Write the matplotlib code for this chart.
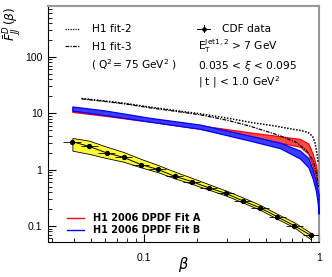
import matplotlib
matplotlib.use("Agg")
import matplotlib.pyplot as plt
from matplotlib.lines import Line2D
from matplotlib.ticker import LogLocator, NullFormatter, FixedLocator, FixedFormatter
import numpy as np

plt.rcParams['font.family'] = ['Liberation Sans', 'DejaVu Sans']
plt.rcParams['mathtext.fontset'] = 'dejavusans'

# CDF data
cdf_beta = [0.039, 0.0487, 0.0612, 0.0766, 0.096, 0.120, 0.150, 0.188, 0.235,
            0.294, 0.368, 0.460, 0.575, 0.719, 0.90]
cdf_val = [3.13, 2.58, 1.98, 1.65, 1.23, 1.01, 0.761, 0.614, 0.474, 0.379,
           0.278, 0.211, 0.147, 0.102, 0.068]
cdf_bin_lo = [0.0345, 0.0435, 0.0545, 0.0685, 0.086, 0.107, 0.134, 0.168, 0.21,
              0.263, 0.329, 0.41, 0.515, 0.645, 0.81]
cdf_bin_hi = [0.0435, 0.0545, 0.0685, 0.086, 0.107, 0.134, 0.168, 0.21, 0.263,
              0.329, 0.41, 0.515, 0.645, 0.81, 1.0]
cdf_band_hi = [3.64, 3.26, 2.55, 2.05, 1.55, 1.21, 0.92, 0.713, 0.55, 0.425,
               0.32, 0.237, 0.165, 0.117, 0.075]
cdf_band_lo = [2.17, 1.9, 1.6, 1.38, 1.1, 0.9, 0.7, 0.558, 0.44, 0.347,
               0.26, 0.194, 0.135, 0.095, 0.058]

# H1 fit-2 and fit-3
fit2_beta = [0.044, 0.06, 0.08, 0.108, 0.15, 0.209, 0.3, 0.404, 0.55, 0.682,
             0.8, 0.866, 0.92, 0.952, 0.977, 0.988]
fit2_val = [18.3, 16.5, 14.8, 12.9, 11.2, 9.8, 8.2, 6.9, 6.0, 5.32,
            4.9, 4.57, 3.9, 2.88, 1.77, 1.3]
fit3_beta = [0.044, 0.06, 0.08, 0.108, 0.15, 0.209, 0.3, 0.404, 0.598, 0.75,
             0.85, 0.92, 0.95, 0.975, 0.995]
fit3_val = [18.0, 16.2, 14.5, 12.5, 10.9, 9.4, 7.5, 5.9, 4.0, 3.0,
            2.17, 1.5, 1.1, 0.75, 0.49]

# H1 2006 DPDF Fit A / Fit B bands
band_beta = [0.039, 0.06, 0.108, 0.209, 0.404, 0.6, 0.78, 0.87, 0.92, 0.96, 0.98, 0.995]
fitA_lo = [10.6, 9.0, 7.1, 5.3, 3.54, 3.0, 2.55, 1.9, 1.18, 0.75, 0.5, 0.32]
fitA_hi = [12.3, 10.6, 8.1, 6.1, 4.57, 3.9, 3.49, 2.9, 1.92, 1.2, 0.8, 0.57]
fitB_lo = [11.1, 9.3, 7.1, 5.3, 3.26, 2.4, 1.57, 1.1, 0.7, 0.42, 0.28, 0.166]
fitB_hi = [13.2, 11.2, 8.3, 6.3, 3.99, 3.0, 2.17, 1.6, 1.0, 0.62, 0.45, 0.37]

W, H = 332, 277
fig = plt.figure(figsize=(W / 100, H / 100), dpi=100)
ax = fig.add_axes([48 / W, 1 - 242 / H, (319 - 48) / W, (242 - 6) / H])
ax.set_xscale('log')
ax.set_yscale('log')
ax.set_xlim(0.0283, 1.0)
ax.set_ylim(0.052, 800)

def px(x, y):
    return (x / W, 1 - y / H)

# Fit A (red) and Fit B (blue) bands
ax.fill_between(band_beta, fitA_lo, fitA_hi, facecolor='#ff4a4a', edgecolor='red',
                linewidth=0.9, zorder=2)
ax.fill_between(band_beta, fitB_lo, fitB_hi, facecolor='#3c3cff', edgecolor='blue',
                linewidth=0.9, zorder=3)

# fits
ax.plot(fit2_beta, fit2_val, color='black', linestyle=(0, (1, 1)), linewidth=1.1, zorder=4)
ax.plot(fit3_beta, fit3_val, color='black', linestyle=(0, (3, 1, 1, 1)), linewidth=0.9, zorder=4)

# CDF band
ax.fill_between(cdf_beta, cdf_band_lo, cdf_band_hi, facecolor='#ffff33',
                edgecolor='black', linewidth=0.6, zorder=5)
ax.plot(cdf_beta, cdf_val, color='black', linewidth=0.7, zorder=6)
xerr = [np.array(cdf_beta) - np.array(cdf_bin_lo), np.array(cdf_bin_hi) - np.array(cdf_beta)]
yerr = np.array(cdf_val) * 0.04
ax.errorbar(cdf_beta, cdf_val, xerr=xerr, yerr=yerr, fmt='o', color='black',
            markersize=2.8, elinewidth=0.6, capsize=0, zorder=7)

# spines and ticks
for s in ['top', 'right']:
    ax.spines[s].set_color('#999999')
    ax.spines[s].set_linewidth(1.5)
for s in ['left', 'bottom']:
    ax.spines[s].set_linewidth(0.8)
ax.tick_params(which='both', direction='in', top=False, right=False, labelsize=7.5)
ax.tick_params(which='major', length=6, width=0.8)
ax.tick_params(which='minor', length=3, width=0.6)
ax.tick_params(axis='x', pad=8)
ax.tick_params(axis='y', pad=4)
ax.yaxis.set_major_locator(FixedLocator([0.1, 1, 10, 100]))
ax.yaxis.set_major_formatter(FixedFormatter(['0.1', '1', '10', '100']))
ax.yaxis.set_minor_locator(LogLocator(base=10, subs=np.arange(2, 10)))
ax.yaxis.set_minor_formatter(NullFormatter())
ax.xaxis.set_major_locator(FixedLocator([0.1, 1]))
ax.xaxis.set_major_formatter(FixedFormatter(['0.1', '1']))
ax.xaxis.set_minor_locator(LogLocator(base=10, subs=np.arange(2, 10)))
ax.xaxis.set_minor_formatter(NullFormatter())

# axis labels
fig.text(*px(12.5, 7), r'$\bar{F}^{D}_{JJ}\,(\beta)$', rotation=90, ha='center', va='top',
         fontsize=8.8, family='DejaVu Sans')
fig.text(*px(183, 264), r'$\beta$', ha='center', va='center', fontsize=10.5)

# top-left legend
fs = 7.7
tf = 'DejaVu Sans'
fig.add_artist(Line2D([65 / W, 80 / W], [1 - 28.5 / H] * 2, color='black', linestyle=(0, (1, 1)), linewidth=0.9))
fig.text(*px(92, 31.7), 'H1 fit-2', ha='left', va='baseline', fontsize=fs, family=tf)
fig.add_artist(Line2D([65 / W, 80 / W], [1 - 46.5 / H] * 2, color='black', linestyle=(0, (3, 1, 1, 1)), linewidth=0.9))
fig.text(*px(92, 50), 'H1 fit-3', ha='left', va='baseline', fontsize=fs, family=tf)
fig.text(*px(91, 69), r'( Q$^2$= 75 GeV$^2$ )', ha='left', va='baseline', fontsize=fs, family=tf)

# top-right legend
fig.add_artist(Line2D([197 / W, 210 / W], [1 - 28.5 / H] * 2, color='black', linewidth=0.7))
fig.add_artist(Line2D([203.5 / W, 203.5 / W], [1 - 25 / H, 1 - 32 / H], color='black', linewidth=0.7))
fig.add_artist(Line2D([203.5 / W], [1 - 28.5 / H], color='black', marker='o', markersize=2.3))
fig.text(*px(222, 31.7), 'CDF data', ha='left', va='baseline', fontsize=fs, family=tf)
fig.text(*px(198, 50), r'E$_\mathregular{T}^\mathregular{Jet1,2}$ > 7 GeV', ha='left', va='baseline',
         fontsize=fs, family=tf)
fig.text(*px(198, 69), r'0.035 < $\xi$ < 0.095', ha='left', va='baseline', fontsize=fs, family=tf)
fig.text(*px(198, 86), r'| t | < 1.0 GeV$^2$', ha='left', va='baseline', fontsize=fs, family=tf)

# bottom-left legend
fig.add_artist(Line2D([67 / W, 84 / W], [1 - 218 / H] * 2, color='red', linewidth=1.0))
fig.text(*px(93, 218), 'H1 2006 DPDF Fit A', ha='left', va='center', fontsize=7,
         fontweight='bold', family=tf)
fig.add_artist(Line2D([67 / W, 84 / W], [1 - 230 / H] * 2, color='blue', linewidth=1.0))
fig.text(*px(93, 230), 'H1 2006 DPDF Fit B', ha='left', va='center', fontsize=7,
         fontweight='bold', family=tf)

fig.savefig('out.png', dpi=100)
